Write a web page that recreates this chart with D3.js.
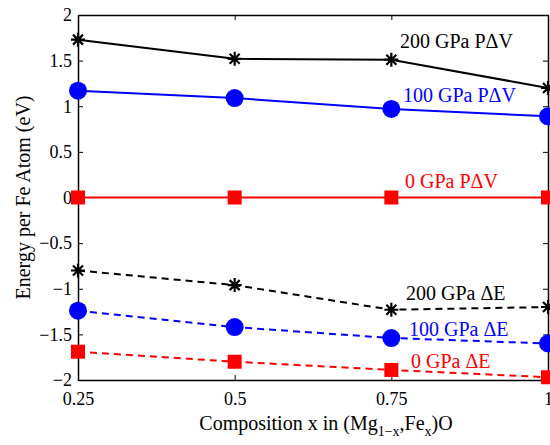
<!DOCTYPE html>
<html>
<head>
<meta charset="utf-8">
<script src="https://cdn.jsdelivr.net/npm/d3@7"></script>
<style>
  body { margin: 0; background: #fff; }
  svg text { font-family: 'Liberation Serif', 'Times New Roman', serif !important; }
</style>
</head>
<body>
<div id="chart"></div>
<script>
// composition values along x
const compositions = [0.25, 0.5, 0.75, 1];
const xTicks = [0.25, 0.5, 0.75, 1];
const yTicks = [-2, -1.5, -1, -0.5, 0, 0.5, 1, 1.5, 2];

// energies per Fe atom (eV)
const pdv200 = [1.73, 1.52, 1.51, 1.20];
const pdv100 = [1.17, 1.09, 0.97, 0.89];
const pdv0   = [0, 0, 0, 0];
const dE200  = [-0.80, -0.96, -1.23, -1.20];
const dE100  = [-1.24, -1.42, -1.54, -1.60];
const dE0    = [-1.69, -1.80, -1.89, -1.97];

const seriesNames = ["200 GPa PΔV", "100 GPa PΔV", "0 GPa PΔV", "200 GPa ΔE", "100 GPa ΔE", "0 GPa ΔE"];

const W = 550, H = 445;
const margin = {top: 15, right: 2, bottom: 65, left: 78};
const width = W - margin.left - margin.right;
const height = H - margin.top - margin.bottom;

const svg = d3.select("#chart").append("svg")
    .attr("width", W)
    .attr("height", H)
    .attr("font-family", "'Liberation Serif', serif");

const g = svg.append("g")
    .attr("transform", "translate(" + margin.left + "," + margin.top + ")");

const x = d3.scaleLinear().domain([0.25, 1]).range([0, width]);
const y = d3.scaleLinear().domain([-2, 2]).range([height, 0]);

// axes box with inward ticks (matlab style)
const fmt = d3.format("");
g.append("g")
    .attr("transform", "translate(0," + height + ")")
    .call(d3.axisBottom(x).tickValues(xTicks).tickSizeInner(-5).tickSizeOuter(0).tickPadding(12).tickFormat(fmt))
    .attr("class", "axis");
g.append("g")
    .call(d3.axisTop(x).tickValues(xTicks).tickSizeInner(-5).tickSizeOuter(0).tickFormat(""))
    .attr("class", "axis");
g.append("g")
    .call(d3.axisLeft(y).tickValues(yTicks).tickSizeInner(-5).tickSizeOuter(0).tickPadding(6).tickFormat(fmt))
    .attr("class", "axis");
g.append("g")
    .attr("transform", "translate(" + width + ",0)")
    .call(d3.axisRight(y).tickValues(yTicks).tickSizeInner(-5).tickSizeOuter(0).tickFormat(""))
    .attr("class", "axis");

g.selectAll(".axis").attr("font-family", null).attr("font-size", null);
g.selectAll(".axis path").attr("stroke", "#000").attr("stroke-width", 1.5);
g.selectAll(".axis line").attr("stroke", "#000").attr("stroke-width", 1);
g.selectAll(".axis text")
    .attr("fill", "#000")
    .attr("font-size", 18);

const line = d3.line()
    .x((d, i) => x(compositions[i]))
    .y(d => y(d));

const series = [
  {vals: pdv200, color: "#000", dash: null, mark: "star"},
  {vals: pdv100, color: "#0000ff", dash: null, mark: "circle"},
  {vals: pdv0,   color: "#ff0000", dash: null, mark: "square"},
  {vals: dE200,  color: "#000", dash: "7,5", mark: "star"},
  {vals: dE100,  color: "#0000ff", dash: "7,5", mark: "circle"},
  {vals: dE0,    color: "#ff0000", dash: "7,5", mark: "square"}
];

series.forEach(s => {
  g.append("path")
      .datum(s.vals)
      .attr("d", line)
      .attr("fill", "none")
      .attr("stroke", s.color)
      .attr("stroke-width", 2)
      .attr("stroke-dasharray", s.dash);

  const pts = g.append("g").selectAll("g")
      .data(s.vals)
      .enter()
      .append("g")
      .attr("transform", (d, i) => "translate(" + x(compositions[i]) + "," + y(d) + ")");

  if (s.mark == "circle") {
    pts.append("circle").attr("r", 9).attr("fill", s.color);
  } else if (s.mark == "square") {
    pts.append("rect").attr("x", -7).attr("y", -7).attr("width", 14).attr("height", 14).attr("fill", s.color);
  } else {
    pts.append("path")
        .attr("d", "M-7,0L7,0M0,-7L0,7M-5,-5L5,5M-5,5L5,-5")
        .attr("stroke", s.color)
        .attr("stroke-width", 2.2)
        .attr("fill", "none");
  }
});

// series labels
const labelPos = [
  {x: 400, y: 48},
  {x: 403, y: 102},
  {x: 405, y: 188},
  {x: 406, y: 300},
  {x: 409, y: 336},
  {x: 411, y: 368}
];
seriesNames.forEach((name, i) => {
  svg.append("text")
      .attr("x", labelPos[i].x)
      .attr("y", labelPos[i].y)
      .attr("fill", series[i].color)
      .attr("font-size", 20)
      .text(name);
});

// axis labels
svg.append("text")
    .attr("transform", "translate(30," + (margin.top + height / 2) + ") rotate(-90)")
    .attr("text-anchor", "middle")
    .attr("font-size", 20)
    .text("Energy per Fe Atom (eV)");

const xl = svg.append("text")
    .attr("x", margin.left + width / 2 + 13)
    .attr("y", 430)
    .attr("text-anchor", "middle")
    .attr("font-size", 20);
xl.append("tspan").text("Composition x in (Mg");
xl.append("tspan").attr("dy", 6).attr("font-size", 14).text("1−x");
xl.append("tspan").attr("dy", -6).text(",Fe");
xl.append("tspan").attr("dy", 6).attr("font-size", 14).text("x");
xl.append("tspan").attr("dy", -6).text(")O");
</script>
</body>
</html>
